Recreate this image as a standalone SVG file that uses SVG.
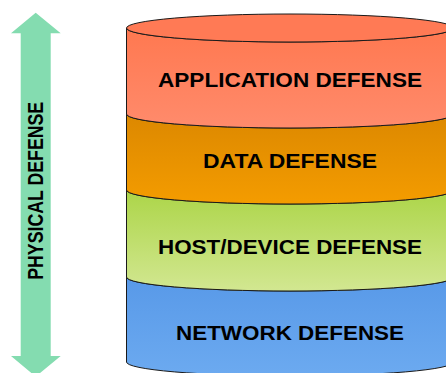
<svg xmlns="http://www.w3.org/2000/svg" width="446" height="373" viewBox="0 0 446 373">
<defs>
<linearGradient id="gApp" x1="0" y1="0" x2="0" y2="1"><stop offset="0" stop-color="#ff7850"/><stop offset="1" stop-color="#ff8b6c"/></linearGradient>
<linearGradient id="gData" x1="0" y1="0" x2="0" y2="1"><stop offset="0" stop-color="#dc8800"/><stop offset="1" stop-color="#f49c00"/></linearGradient>
<linearGradient id="gHost" x1="0" y1="0" x2="0" y2="1"><stop offset="0" stop-color="#acd548"/><stop offset="1" stop-color="#d2e791"/></linearGradient>
<linearGradient id="gNet" x1="0" y1="0" x2="0" y2="1"><stop offset="0" stop-color="#5899e8"/><stop offset="1" stop-color="#6caaf0"/></linearGradient>
</defs>
<style>
.band{stroke:#1a1a1a;stroke-width:1}
.lbl{font-family:"Liberation Sans",Arial,sans-serif;font-weight:bold;font-size:21px;fill:#000;text-anchor:middle}
.vlbl{font-size:22px}
</style>
<rect width="446" height="373" fill="#fff"/>
<g id="physical-defense">
<polygon points="35.7,12.7 11,33.3 20.7,33.3 20.7,356 11,356 35.7,376.6 60.7,356 50.7,356 50.7,33.3 60.7,33.3" fill="#84dcb0"/>
<text transform="translate(43.3,190.8) rotate(-90)" x="0" y="0" class="lbl vlbl" textLength="178" lengthAdjust="spacingAndGlyphs">PHYSICAL DEFENSE</text>
</g>
<g id="network-defense">
<path class="band" fill="url(#gNet)" d="M126.5,277 A163.5,14 0 0 0 453.5,277 L453.5,362 A163.5,14 0 0 1 126.5,362 Z"/>
<text class="lbl" x="290" y="340" textLength="228" lengthAdjust="spacingAndGlyphs">NETWORK DEFENSE</text>
</g>
<g id="host-device-defense">
<path class="band" fill="url(#gHost)" d="M126.5,190 A163.5,14 0 0 0 453.5,190 L453.5,277 A163.5,14 0 0 1 126.5,277 Z"/>
<text class="lbl" x="290" y="254" textLength="264" lengthAdjust="spacingAndGlyphs">HOST/DEVICE DEFENSE</text>
</g>
<g id="data-defense">
<path class="band" fill="url(#gData)" d="M126.5,114 A163.5,14 0 0 0 453.5,114 L453.5,190 A163.5,14 0 0 1 126.5,190 Z"/>
<text class="lbl" x="290" y="168.3" textLength="174" lengthAdjust="spacingAndGlyphs">DATA DEFENSE</text>
</g>
<g id="application-defense">
<path class="band" fill="url(#gApp)" d="M126.5,28 A163.5,14 0 0 0 453.5,28 L453.5,114 A163.5,14 0 0 1 126.5,114 Z"/>
<ellipse class="band" cx="290" cy="28" rx="163.5" ry="14" fill="#ff7a55"/>
<text class="lbl" x="290" y="86.5" textLength="264" lengthAdjust="spacingAndGlyphs">APPLICATION DEFENSE</text>
</g>
</svg>
